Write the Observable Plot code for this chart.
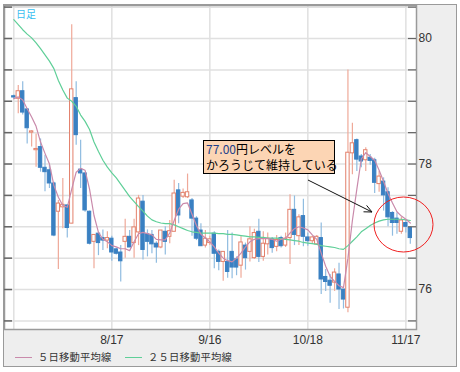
<!DOCTYPE html>
<html><head><meta charset="utf-8">
<script src="https://cdn.jsdelivr.net/npm/d3@7"></script>
<script src="https://cdn.jsdelivr.net/npm/@observablehq/plot@0.6"></script>
<style>
html,body{margin:0;padding:0;background:#fff;width:460px;height:372px;overflow:hidden;}
#outer{position:absolute;left:3px;top:4px;width:454px;height:363px;box-sizing:border-box;border:1px solid #9a9a9a;background:#eeeeee;}
#chart{position:absolute;left:0;top:0;}
.jp{font-family:"Noto Sans CJK JP","Noto Sans",sans-serif;}
#tag{position:absolute;left:16px;top:6px;font-size:10px;color:#38bdf0;}
#note{position:absolute;left:203px;top:140px;width:132px;height:34px;box-sizing:border-box;border:1px solid #000;background:#fcd5b4;font-size:12px;line-height:16px;padding:0 0 0 2px;color:#000;white-space:nowrap;}
#legend{position:absolute;left:0;top:349px;font-size:10.3px;color:#333;white-space:nowrap;letter-spacing:0.2px;}
.li{position:absolute;top:0;}
.sw{position:absolute;top:8px;width:17px;height:1px;}
</style></head>
<body>
<div id="outer"></div>
<div id="chart"></div>
<div id="tag" class="jp">日足</div>
<div id="note" class="jp"><span style="color:#1d3f8a">77.00</span>円レベルを<br>かろうじて維持している</div>
<div id="legend" class="jp"></div>
<script>
const dates = ["7/18","7/19","7/20","7/21","7/22","7/25","7/26","7/27","7/28","7/29",
 "8/1","8/2","8/3","8/4","8/5","8/8","8/9","8/10","8/11","8/12",
 "8/15","8/16","8/17","8/18","8/19","8/22","8/23","8/24","8/25","8/26",
 "8/29","8/30","8/31","9/1","9/2","9/5","9/6","9/7","9/8","9/9",
 "9/12","9/13","9/14","9/15","9/16","9/19","9/20","9/21","9/22","9/23",
 "9/26","9/27","9/28","9/29","9/30","10/3","10/4","10/5","10/6","10/7",
 "10/10","10/11","10/12","10/13","10/14","10/17","10/18","10/19","10/20","10/21",
 "10/24","10/25","10/26","10/27","10/28","10/31","11/1","11/2","11/3","11/4",
 "11/7","11/8","11/9","11/10","11/11","11/14","11/15","11/16","11/17","11/18"];
const open = [79.08,79.04,79.16,78.87,78.50,78.22,78.27,77.94,77.90,77.69,
 77.24,77.31,77.34,77.05,79.05,77.91,77.85,77.24,76.76,76.89,
 76.82,76.78,76.81,76.64,76.59,76.76,76.84,76.74,76.91,77.40,
 76.88,76.87,76.73,76.67,76.92,76.84,76.92,77.58,77.48,77.47,
 77.42,77.13,76.94,76.70,76.74,76.89,76.60,76.44,76.44,76.60,
 76.48,76.38,76.70,76.60,76.50,76.92,76.52,76.72,76.80,76.68,
 76.82,76.70,76.82,77.27,76.85,77.17,76.83,76.77,76.72,76.82,
 76.20,76.14,76.11,76.24,76.00,75.71,78.17,78.38,78.12,78.06,
 78.10,78.06,77.68,77.72,77.55,77.22,77.13,76.92,77.06,76.98];
const high = [79.10,79.25,79.31,78.88,78.53,78.48,78.40,78.14,77.98,77.71,
 77.42,77.77,77.35,80.22,79.31,78.38,77.86,77.25,76.87,76.91,
 76.95,76.92,76.85,76.66,76.70,77.12,76.94,77.12,77.50,77.50,
 76.95,76.94,76.76,76.94,77.00,77.10,77.74,77.69,77.60,77.84,
 77.45,77.16,77.05,76.94,76.85,76.92,76.63,76.60,76.94,76.90,
 76.52,76.84,76.74,77.00,76.96,77.12,76.92,76.90,76.83,76.86,
 76.85,76.90,77.51,77.49,77.19,77.44,76.90,76.85,76.86,77.06,
 76.32,76.24,76.33,76.42,76.00,79.50,78.65,78.40,78.15,78.26,
 78.15,78.09,77.88,77.78,77.62,77.24,77.22,77.15,77.10,77.00];
const low = [79.03,78.80,78.78,78.32,78.27,77.95,77.87,77.56,77.61,76.84,
 76.32,76.97,76.82,77.05,78.30,77.61,77.23,76.71,76.33,76.54,
 76.62,76.65,76.45,76.55,76.12,76.50,76.73,76.50,76.70,76.47,
 76.52,76.57,76.42,76.65,76.55,76.73,76.92,77.05,77.45,77.45,
 76.85,76.78,76.69,76.66,76.70,76.33,76.30,76.13,76.18,76.17,
 76.22,76.18,76.31,76.44,76.48,76.43,76.45,76.55,76.58,76.60,
 76.66,76.67,76.40,76.70,76.70,76.68,76.69,76.72,76.70,75.92,
 75.97,75.78,75.97,75.68,75.69,75.63,77.83,77.88,77.94,77.88,
 77.98,77.53,77.55,77.25,77.00,76.85,76.88,76.88,76.90,76.72];
const close = [79.06,79.16,78.82,78.57,78.52,78.24,77.94,77.87,77.69,76.86,
 77.37,77.35,76.98,79.19,78.46,77.85,77.26,76.73,76.87,76.74,
 76.78,76.82,76.59,76.57,76.45,76.84,76.67,76.99,77.45,76.63,
 76.76,76.72,76.67,76.94,76.76,76.93,77.53,77.18,77.54,77.55,
 77.13,76.81,76.69,76.81,76.80,76.57,76.44,76.60,76.28,76.35,
 76.35,76.75,76.50,76.80,76.90,76.52,76.73,76.81,76.66,76.79,
 76.69,76.81,77.27,76.87,77.15,76.84,76.77,76.83,76.84,76.16,
 76.12,76.06,76.27,76.00,75.84,78.18,78.33,78.07,78.04,78.22,
 78.05,77.70,77.80,77.50,77.15,77.06,77.06,77.10,77.00,76.82];
const ma5 = [79.04,79.07,79.02,78.88,78.75,78.60,78.35,78.17,78.00,77.66,
 77.47,77.34,77.31,77.60,77.87,77.93,77.90,77.60,77.18,76.91,
 76.80,76.76,76.70,76.68,76.65,76.65,76.62,76.76,76.89,76.91,
 76.89,76.87,76.80,76.79,76.79,76.90,77.10,77.28,77.37,77.38,
 77.20,77.02,76.88,76.82,76.76,76.68,76.58,76.50,76.46,76.44,
 76.50,76.58,76.68,76.76,76.80,76.81,76.81,76.81,76.80,76.77,
 76.80,76.82,76.90,76.97,77.00,76.98,76.95,76.87,76.80,76.58,
 76.37,76.21,76.13,76.06,76.03,76.50,77.10,77.60,78.08,78.18,
 78.12,78.06,77.90,77.72,77.53,77.38,77.24,77.17,77.12,77.06];
const ma25 = [80.30,80.22,80.14,80.07,80.01,79.93,79.84,79.74,79.64,79.52,
 79.33,79.18,79.05,79.00,78.92,78.78,78.68,78.55,78.35,78.20,
 78.06,77.95,77.86,77.78,77.68,77.58,77.48,77.40,77.32,77.25,
 77.17,77.11,77.08,77.06,77.05,77.05,77.03,77.00,76.97,76.94,
 76.92,76.91,76.90,76.90,76.90,76.90,76.89,76.89,76.88,76.88,
 76.87,76.86,76.85,76.84,76.84,76.83,76.83,76.82,76.82,76.82,
 76.81,76.80,76.79,76.78,76.77,76.75,76.74,76.73,76.72,76.70,
 76.69,76.68,76.67,76.65,76.64,76.70,76.77,76.84,76.92,76.97,
 77.02,77.06,77.09,77.11,77.12,77.12,77.12,77.12,77.11,77.10];
const gridDates = ["7/18","8/17","9/16","10/18","11/17"];
const labelDates = ["8/17","9/16","10/18","11/17"];
const yGrid = [75.5,76,76.5,77,77.5,78,78.5,79,79.5,80,80.5];
const yLabels = [76,78,80];
const seriesNames = ["５日移動平均線","２５日移動平均線"];

const UP_BODY = "#e3806b", UP_WICK = "#efa999", DN_BODY = "#3a80c2", DN_WICK = "#90bce0";
const C5 = "#c98aab", C25 = "#5fcf98";

const rows = dates.map((d, i) => {
  const o = open[i], c = close[i];
  let lo = Math.min(o, c), hi = Math.max(o, c);
  if (hi - lo < 0.018) { const m = (hi + lo) / 2; lo = m - 0.009; hi = m + 0.009; }
  return {i, date: d, o, h: high[i], l: low[i], c, lo, hi, up: c > o, m5: ma5[i], m25: ma25[i]};
});
const idx = d => dates.indexOf(d);

const plot = Plot.plot({
  width: 460, height: 372,
  marginLeft: 4, marginRight: 44, marginTop: 5, marginBottom: 43,
  x: {type: "linear", domain: [-2.09, 90.39]},
  y: {domain: [75.363, 80.526]},
  style: {background: "transparent", fontFamily: "'Liberation Sans', Arial, sans-serif", fontSize: "12px", color: "#333"},
  marks: [
    Plot.frame({fill: "white"}),
    Plot.ruleY(yGrid, {stroke: "#e0e0e0", strokeWidth: 1.5}),
    Plot.ruleX(gridDates.map(idx), {stroke: "#e0e0e0", strokeWidth: 1.5}),
    Plot.ruleX(rows, {x: "i", y1: "l", y2: "h", stroke: d => d.up ? UP_WICK : DN_WICK, strokeWidth: 1.2}),
    Plot.rect(rows, {x1: d => d.i - 0.38, x2: d => d.i + 0.38, y1: "lo", y2: "hi",
      fill: d => d.up ? "white" : DN_BODY, stroke: d => d.up ? UP_BODY : DN_BODY, strokeWidth: 1}),
    Plot.line(rows, {x: "i", y: "m25", stroke: C25, strokeWidth: 1.2}),
    Plot.line(rows, {x: "i", y: "m5", stroke: C5, strokeWidth: 1.2}),
    Plot.frame({stroke: "#9a9a9a", strokeWidth: 1.5}),
    Plot.tickY(yGrid, {y: d => d, insetRight: 404, stroke: "#666", strokeWidth: 1.5}),
    Plot.tickY(yGrid, {y: d => d, insetLeft: 404, stroke: "#666", strokeWidth: 1.2}),
    Plot.axisY({anchor: "right", ticks: yLabels, tickFormat: d => String(d), tickSize: 0, tickPadding: 2, label: null, fill: "#333", fontSize: 12}),
    Plot.axisX({anchor: "bottom", ticks: labelDates.map(idx), tickFormat: i => dates[i], tickSize: 0, tickPadding: 6, label: null, fill: "#333", fontSize: 12})
  ]
});
document.getElementById("chart").appendChild(plot);

// annotation arrow + highlight ellipse
const ns = "http://www.w3.org/2000/svg";
const g = document.createElementNS(ns, "g");
g.setAttribute("fill", "none");
const mk = (tag, attrs) => { const e = document.createElementNS(ns, tag); for (const k in attrs) e.setAttribute(k, attrs[k]); g.appendChild(e); return e; };
mk("line", {x1: 308, y1: 180, x2: 372, y2: 212, stroke: "#111", "stroke-width": 1});
mk("polyline", {points: "363.5,211.8 372,212 366.6,205.4", stroke: "#111", "stroke-width": 1});
mk("ellipse", {cx: 403.5, cy: 224.5, rx: 29.5, ry: 27.5, stroke: "#f02020", "stroke-width": 1});
plot.appendChild(g);

// legend
const leg = document.getElementById("legend");
const items = [{name: seriesNames[0], color: C5, x: 15}, {name: seriesNames[1], color: C25, x: 125}];
for (const it of items) {
  const sw = document.createElement("div"); sw.className = "sw"; sw.style.left = it.x + "px"; sw.style.background = it.color; leg.appendChild(sw);
  const t = document.createElement("div"); t.className = "li"; t.style.left = (it.x + 23) + "px"; t.textContent = it.name; leg.appendChild(t);
}
</script>
</body></html>
